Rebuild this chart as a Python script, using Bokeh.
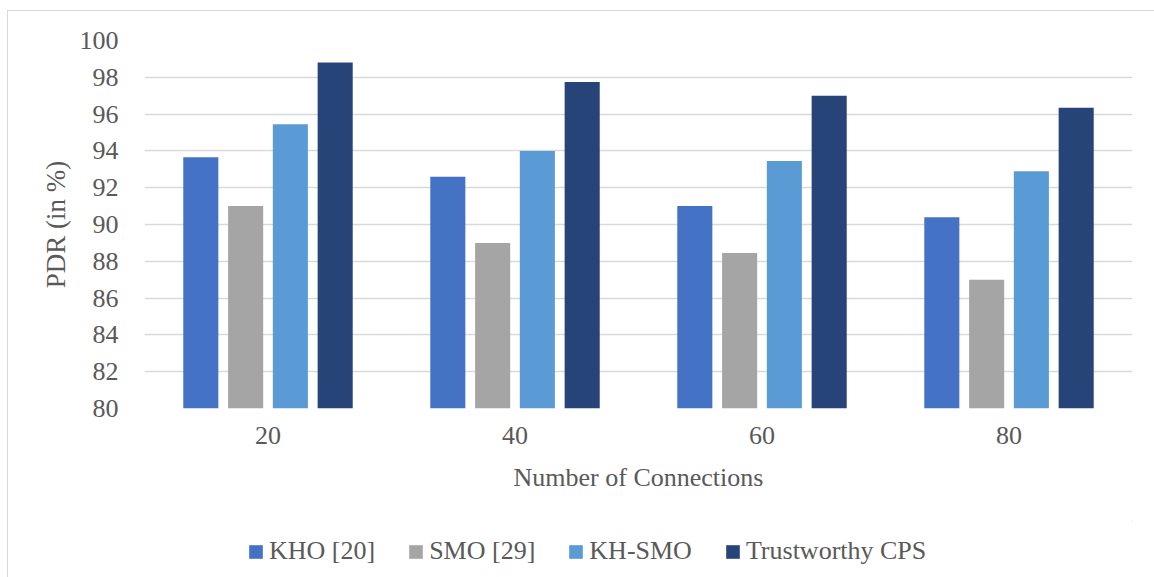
from bokeh.plotting import figure
from bokeh.models import FactorRange, Range1d, FixedTicker, Legend, LegendItem, ColumnDataSource
from bokeh.layouts import column
from bokeh.transform import dodge
from bokeh.embed import file_html
from bokeh.resources import INLINE

connections = ["20", "40", "60", "80"]
series_names = ["KHO [20]", "SMO [29]", "KH-SMO", "Trustworthy CPS"]
kho = [93.65, 92.6, 91.0, 90.4]
smo = [91.0, 89.0, 88.45, 87.0]
kh_smo = [95.45, 94.0, 93.45, 92.9]
tcps = [98.8, 97.75, 97.0, 96.35]
y_ticks = [80, 82, 84, 86, 88, 90, 92, 94, 96, 98, 100]

colors = ["#4472C4", "#A5A5A5", "#5B9BD5", "#264478"]
offsets = [-0.272, -0.0905, 0.0905, 0.272]
bar_w = 0.142

src = ColumnDataSource(dict(x=connections, kho=kho, smo=smo, kh_smo=kh_smo, tcps=tcps))

FONT = "Liberation Serif"
TXT = "#595959"
GRID = "#d9d9d9"
FS = "26px"

p = figure(width=1147, height=510,
           x_range=FactorRange(*connections, range_padding=0),
           y_range=Range1d(80, 100),
           output_backend="svg", toolbar_location=None,
           min_border_left=136, min_border_right=23,
           min_border_top=29, min_border_bottom=113)
p.outline_line_color = None
p.background_fill_color = "white"
p.border_fill_color = "white"

for col, off, c in zip(["kho", "smo", "kh_smo", "tcps"], offsets, colors):
    p.vbar(x=dodge("x", off, range=p.x_range), top=col, bottom=80, width=bar_w,
           source=src, fill_color=c, line_color=None)

p.xgrid.grid_line_color = None
p.ygrid.grid_line_color = GRID
p.ygrid.grid_line_width = 1.5
p.yaxis.ticker = FixedTicker(ticks=y_ticks)

for ax in (p.xaxis[0], p.yaxis[0]):
    ax.axis_line_color = None
    ax.major_tick_line_color = None
    ax.minor_tick_line_color = None
    ax.major_label_text_font = FONT
    ax.major_label_text_font_size = FS
    ax.major_label_text_color = TXT
    ax.axis_label_text_font = FONT
    ax.axis_label_text_font_size = FS
    ax.axis_label_text_color = TXT
    ax.axis_label_text_font_style = "normal"

p.yaxis.axis_label = "PDR (in %)"
p.yaxis.axis_label_text_font_size = "27px"
p.yaxis.major_label_standoff = 20
p.yaxis.axis_label_standoff = 6
p.xaxis.axis_label = "Number of Connections"
p.xaxis.major_label_standoff = 12
p.xaxis.axis_label_standoff = 16

# legend strip
lg = figure(width=1147, height=57, x_range=Range1d(0, 1), y_range=Range1d(0, 1),
            output_backend="svg", toolbar_location=None,
            min_border_left=0, min_border_right=0, min_border_top=0, min_border_bottom=0)
lg.axis.visible = False
lg.grid.visible = False
lg.outline_line_color = None
lg.background_fill_color = "white"
lg.border_fill_color = "white"
dummy = []
for c in colors:
    dummy.append(lg.vbar(x=[5], top=[5], bottom=[4], width=0.1, fill_color=c, line_color=None))

legend = Legend(items=[LegendItem(label=n, renderers=[r]) for n, r in zip(series_names, dummy)],
                orientation="horizontal", location=(103, 12),
                glyph_width=17, glyph_height=17, label_standoff=5, spacing=32,
                padding=0, margin=0, border_line_color=None, background_fill_alpha=0,
                label_text_font=FONT, label_text_font_size=FS, label_text_color=TXT)
lg.add_layout(legend, "center")

layout = column(p, lg, spacing=0, margin=(10, 0, 0, 7),
                styles={"border-top": "1px solid #d9d9d9", "border-left": "1px solid #d9d9d9"})

open("out.html", "w").write(file_html(layout, INLINE))
